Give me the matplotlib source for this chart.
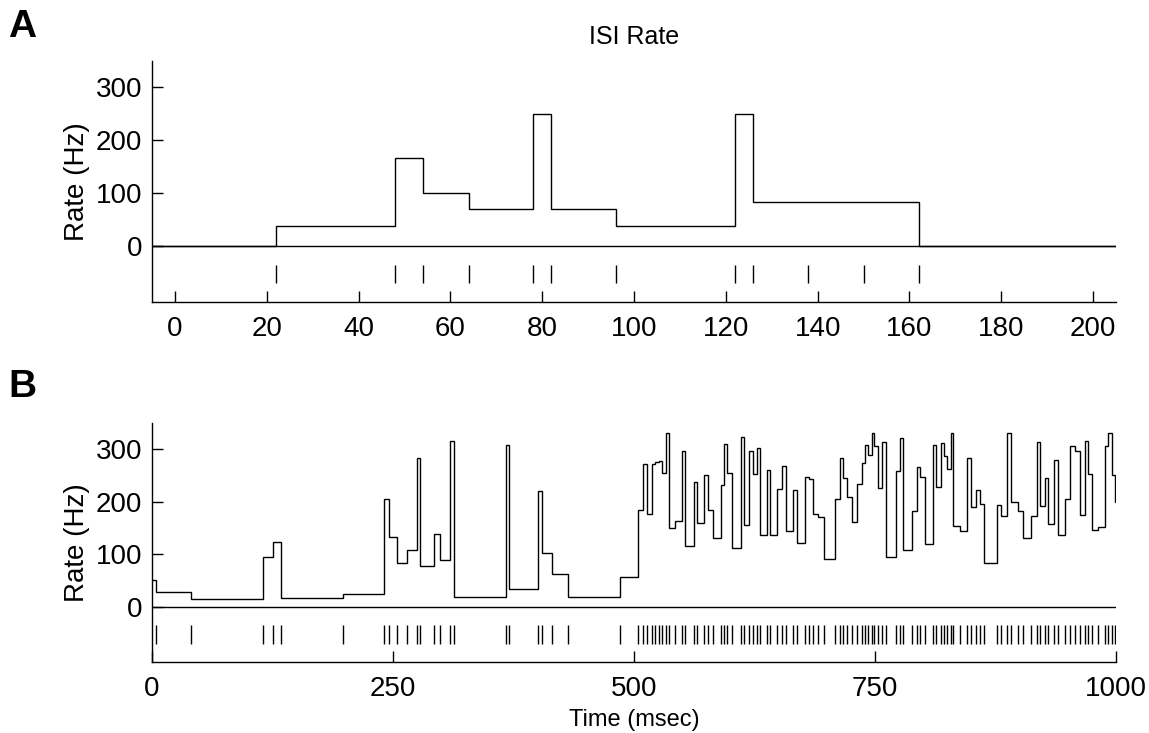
import numpy as np
import matplotlib.pyplot as plt

plt.rcParams['font.family'] = ['Liberation Sans', 'DejaVu Sans']

# panel A: spike times (msec) and ISI rate (Hz) after each spike
spikes_a = [22, 48, 54, 64, 78, 82, 96, 122, 126, 138, 150, 162]
rate_a_start = 0
rates_a = [38, 167, 100, 71, 250, 71, 38, 250, 83, 83, 83, 0]

# panel B: spike times (msec) and ISI rate (Hz) after each spike
spikes_b = [4.5, 40.5, 115, 125.5, 134, 198.5, 240.5, 245.5, 254, 265, 274.5, 278,
            292, 299, 309.5, 313, 367, 370.5, 400.7, 405, 415, 431, 485.8, 503.8,
            509, 513.2, 518.7, 521.8, 525.9, 529.4, 533.6, 536.7, 542.6, 550.2, 553.4,
            562, 565.5, 572.5, 576.6, 581.8, 589.8, 593.2, 596.4, 601.6, 610.5, 614.1,
            619.3, 623.1, 627.2, 630.7, 637.6, 641, 648.7, 653.5, 657.4, 664.6, 668.8,
            677.4, 681.5, 685.3, 691.2, 697.1, 708.5, 713.7, 717.2, 720.7, 725.8, 731.7,
            736.2, 739.6, 743.1, 746.6, 749.3, 752.8, 757.6, 761.1, 771.8, 776, 778.7,
            788.1, 793.2, 797, 801.9, 810.5, 813.3, 818.5, 821.6, 825.1, 828.5, 831.3,
            838.2, 845.1, 849.3, 854.5, 859, 863.4, 876.2, 880.7, 887.3, 891.1, 898,
            903.2, 911.5, 917.7, 921.2, 926.3, 929.8, 936, 940.2, 947.1, 952.3, 957.5,
            962.7, 967.9, 971.3, 974.9, 981.8, 988.6, 992, 995.5, 999]
rate_b_start = 51
rates_b = [28, 14, 95, 123, 16, 25, 204, 133, 83, 107, 282, 77,
           138, 89, 315, 19, 308, 34, 220, 102, 63, 19, 57, 184,
           271, 177, 272, 276, 278, 255, 330, 149, 164, 296, 116,
           238, 160, 250, 184, 130, 231, 310, 255, 111, 322, 155,
           296, 253, 302, 137, 260, 137, 224, 267, 144, 222, 121,
           247, 243, 176, 171, 90, 204, 283, 245, 209, 161, 233,
           274, 307, 288, 330, 305, 226, 313, 95, 258, 320, 108,
           183, 265, 247, 119, 308, 228, 312, 286, 262, 330, 154,
           144, 282, 190, 222, 195, 83, 193, 173, 330, 199, 182,
           130, 173, 314, 192, 245, 158, 279, 136, 204, 305, 296,
           174, 315, 253, 146, 152, 305, 330, 250, 200]

yticks = [0, 100, 200, 300]


def rate_panel(ax, spikes, r0, rates, xlim, xticks):
    edges = [xlim[0]] + list(spikes) + [xlim[1]]
    ax.axhline(0, color='k', lw=1.0)
    ax.stairs([r0] + list(rates), edges, baseline=None, color='k', lw=1.0)
    ax.vlines(spikes, -70, -35, color='k', lw=1.0)
    ax.set_xlim(xlim)
    ax.set_ylim(-105, 350)
    ax.set_xticks(xticks)
    ax.set_yticks(yticks)
    ax.tick_params(direction='in', length=8, width=1, labelsize=20)
    ax.tick_params(axis='y', pad=7)
    ax.tick_params(axis='x', pad=10)
    for s in ['top', 'right']:
        ax.spines[s].set_visible(False)
    for s in ['left', 'bottom']:
        ax.spines[s].set_linewidth(1.0)
    ax.set_ylabel('Rate (Hz)', fontsize=20, labelpad=4)


fig = plt.figure(figsize=(11.49, 7.33), dpi=100)
ax1 = fig.add_axes([0.1323, 0.5884, 0.839, 0.3284])
ax2 = fig.add_axes([0.1323, 0.0969, 0.839, 0.3264])

rate_panel(ax1, spikes_a, rate_a_start, rates_a, (-5, 205), range(0, 201, 20))
rate_panel(ax2, spikes_b, rate_b_start, rates_b, (0, 1000), [0, 250, 500, 750, 1000])

ax1.set_title('ISI Rate', fontsize=18, pad=12)
ax2.set_xlabel('Time (msec)', fontsize=17, labelpad=5)

fig.text(0.007, 0.95, 'A', fontsize=28, fontweight='bold')
fig.text(0.007, 0.458, 'B', fontsize=28, fontweight='bold')

fig.savefig('out.png', dpi=100)
